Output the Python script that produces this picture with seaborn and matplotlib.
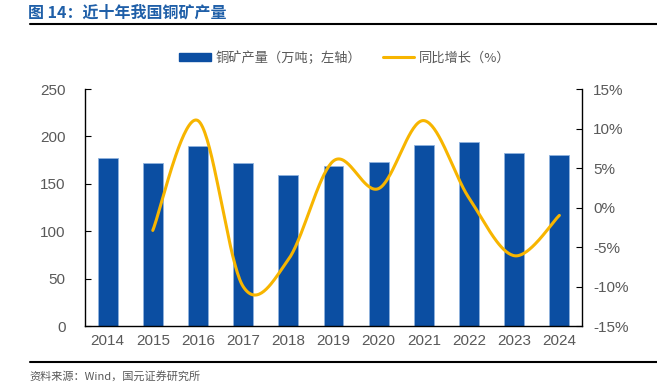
import numpy as np
import pandas as pd
import matplotlib
matplotlib.use("Agg")
import matplotlib.pyplot as plt
import seaborn as sns
from matplotlib.lines import Line2D
from matplotlib.patches import Patch

years = ["2014", "2015", "2016", "2017", "2018", "2019", "2020", "2021", "2022", "2023", "2024"]
output = [177, 172, 190, 172, 159, 169, 173, 191, 194, 182, 180]
growth_years = ["2015", "2016", "2017", "2018", "2019", "2020", "2021", "2022", "2023", "2024"]
growth = [-2.9, 11.0, -10.0, -6.6, 5.9, 2.4, 11.0, 1.2, -6.1, -1.0]

sns.set_theme(style="white")
plt.rcParams['font.family'] = ['Liberation Sans', 'Noto Sans CJK SC', 'DejaVu Sans']

BLUE = "#0B4EA2"
GOLD = "#F7B500"
GRAY = "#595959"

fig = plt.figure(figsize=(6.57, 3.87), dpi=100)
ax = fig.add_axes([0.1294, 0.1576, 0.7564, 0.6124])

df = pd.DataFrame({"year": years, "output": output})
sns.barplot(data=df, x="year", y="output", order=years, color=BLUE, width=0.44,
            saturation=1, ax=ax, edgecolor="#8FB3DE", linewidth=0.6)
ax.set_xlim(-0.5, len(years) - 0.5)
ax.set_ylim(0, 250)
ax.set_yticks(range(0, 251, 50))
ax.set_xlabel("")
ax.set_ylabel("")

# smooth line on secondary axis (Bezier smoothing of data points, Excel-like)
ax2 = ax.twinx()
ax2.set_position(ax.get_position())
pos = np.array([years.index(y) for y in growth_years], dtype=float)
val = np.array(growth, dtype=float)
xs, ys = [], []
n = len(pos)
for i in range(n - 1):
    p0 = np.array([pos[i - 1], val[i - 1]]) if i > 0 else np.array([pos[i], val[i]])
    p1 = np.array([pos[i], val[i]])
    p2 = np.array([pos[i + 1], val[i + 1]])
    p3 = np.array([pos[i + 2], val[i + 2]]) if i + 2 < n else p2
    c1 = p1 + (p2 - p0) / 6
    c2 = p2 - (p3 - p1) / 6
    t = np.linspace(0, 1, 40)[:, None]
    seg = (1 - t) ** 3 * p1 + 3 * (1 - t) ** 2 * t * c1 + 3 * (1 - t) * t ** 2 * c2 + t ** 3 * p2
    xs.extend(seg[:, 0]); ys.extend(seg[:, 1])
ax2.plot(xs, ys, color=GOLD, lw=2.2, solid_capstyle="round")
ax2.set_ylim(-15, 15)
ax2.set_yticks(range(-15, 16, 5))
ax2.set_yticklabels([f"{v}%" for v in range(-15, 16, 5)])

for a in (ax, ax2):
    a.spines["top"].set_visible(False)
    for s in ("left", "right", "bottom"):
        a.spines[s].set_color("#000000")
        a.spines[s].set_linewidth(1.0)
ax.spines["right"].set_visible(False)
ax2.spines["left"].set_visible(False)
ax2.spines["bottom"].set_visible(False)

ax.tick_params(axis="y", direction="in", length=4, width=0.8, colors="#000000",
               labelcolor=GRAY, labelsize=11, pad=14)
ax2.tick_params(axis="y", direction="in", length=4, width=0.8, colors="#000000",
                labelcolor=GRAY, labelsize=11, pad=8)
# x ticks at category boundaries, labels centered
ax.set_xticks(np.arange(len(years)))
ax.set_xticklabels(years)
ax.tick_params(axis="x", length=0, labelcolor=GRAY, labelsize=11, pad=6)
ax.set_xticks(np.arange(-0.5, len(years), 1.0), minor=True)
ax.tick_params(axis="x", which="minor", direction="in", length=4, width=0.8, colors="#000000")

# legend
handles = [Patch(facecolor=BLUE, edgecolor=BLUE),
           Line2D([0], [0], color=GOLD, lw=2.2)]
labels = ["铜矿产量（万吨；左轴）", "同比增长（%）"]
fig.legend(handles, labels, loc="center", bbox_to_anchor=(0.525, 0.85), ncol=2,
           frameon=False, handlelength=2.4, handleheight=0.6, handletextpad=0.35,
           columnspacing=1.6, labelcolor=GRAY,
           prop={"family": ["Noto Sans CJK SC", "DejaVu Sans"], "size": 9.5})

# title & source
fig.text(0.043, 0.968, "图 14：近十年我国铜矿产量", color="#1F5FA8", fontsize=11.5,
         fontweight="bold", va="center", ha="left",
         family=["Noto Sans CJK SC", "DejaVu Sans"])
fig.add_artist(Line2D([0.045, 1.0], [0.937, 0.937], color="#000000", lw=1.5,
                      transform=fig.transFigure))
fig.add_artist(Line2D([0.045, 1.0], [0.065, 0.065], color="#000000", lw=1.5,
                      transform=fig.transFigure))
fig.text(0.045, 0.027, "资料来源：Wind，国元证券研究所", color=GRAY, fontsize=8,
         va="center", ha="left", family=["Noto Sans CJK SC", "DejaVu Sans"])

fig.savefig("out.png", dpi=100)
